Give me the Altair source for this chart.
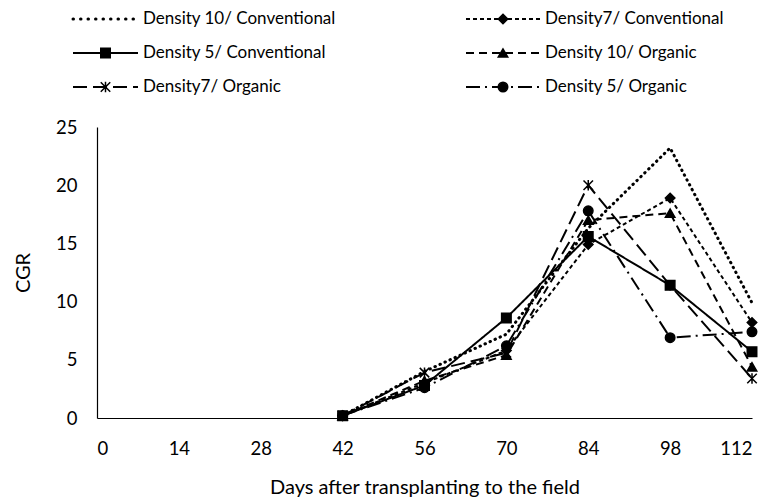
import altair as alt
import pandas as pd

days = [42, 56, 70, 84, 98, 112]
series = [
    "Density 10/ Conventional",
    "Density7/ Conventional",
    "Density 5/ Conventional",
    "Density 10/ Organic",
    "Density7/ Organic",
    "Density 5/ Organic",
]
d10_conv = [0.2, 4.0, 7.2, 16.3, 23.2, 9.9]
d7_conv = [0.2, 3.0, 5.8, 14.9, 18.9, 8.2]
d5_conv = [0.2, 2.8, 8.6, 15.6, 11.4, 5.7]
d10_org = [0.2, 3.2, 5.4, 17.0, 17.6, 4.4]
d7_org = [0.2, 3.9, 5.6, 20.0, 11.4, 3.4]
d5_org = [0.2, 2.6, 6.2, 17.8, 6.9, 7.4]
x_ticks = [0, 14, 28, 42, 56, 70, 84, 98, 112]
y_ticks = [0, 5, 10, 15, 20, 25]

values = [d10_conv, d7_conv, d5_conv, d10_org, d7_org, d5_org]
rows = []
for s, vals in zip(series, values):
    for d, v in zip(days, vals):
        rows.append({"series": s, "day": d, "cgr": v})
df = pd.DataFrame(rows)

dash_range = [[0.5, 5], [4, 3], [1, 0], [8, 5], [14, 6], [14, 5, 2, 5]]
star = "M-1,-1L1,1M1,-1L-1,1M0,-1.1L0,1.1"
marker_series = series[1:]
shape_range = ["diamond", "square", "triangle-up", star, "circle"]

FONT = "Lato"

x_enc = alt.X("day:Q", scale=alt.Scale(domain=[0, 112], nice=False),
              axis=alt.Axis(values=x_ticks, title="Days after transplanting to the field",
                            labelPadding=21, titlePadding=20))
y_enc = alt.Y("cgr:Q", scale=alt.Scale(domain=[0, 25], nice=False),
              axis=alt.Axis(values=y_ticks, title="CGR", labelPadding=20, titlePadding=22))
dash_enc = alt.StrokeDash("series:N", scale=alt.Scale(domain=series, range=dash_range), legend=None)
shape_enc = alt.Shape("series:N", scale=alt.Scale(domain=marker_series, range=shape_range), legend=None)

dotted = alt.Chart(df[df.series == series[0]]).mark_line(
    color="black", strokeWidth=3, strokeCap="round", strokeDash=[0.5, 5]
).encode(x=x_enc, y=y_enc)

others = alt.Chart(df[df.series != series[0]]).mark_line(
    color="black", strokeWidth=2
).encode(x=x_enc, y=y_enc, strokeDash=dash_enc, detail="series:N")

points = alt.Chart(df[df.series != series[0]]).mark_point(
    filled=True, color="black", stroke="black", strokeWidth=1.5, opacity=1, size=90
).encode(x=x_enc, y=y_enc, shape=shape_enc)

# legend layout (pixel positions relative to plot origin)
leg_x1 = [-24, 369, -24, 369, -24, 369]
leg_x2 = [41, 443, 41, 443, 41, 443]
leg_y = [-108, -108, -74, -74, -40, -40]
leg = pd.DataFrame({
    "series": series,
    "x1": leg_x1,
    "x2": leg_x2,
    "xm": [(a + b) / 2 for a, b in zip(leg_x1, leg_x2)],
    "xt": [b + 5 for b in leg_x2],
    "y": leg_y,
})

leg_dotted = alt.Chart(leg[leg.series == series[0]]).mark_rule(
    color="black", strokeWidth=3, strokeCap="round", strokeDash=[0.5, 7]
).encode(x=alt.X("x1:Q", scale=None), x2="x2:Q", y=alt.Y("y:Q", scale=None))

leg_lines = alt.Chart(leg[leg.series != series[0]]).mark_rule(
    color="black", strokeWidth=2
).encode(x=alt.X("x1:Q", scale=None), x2="x2:Q", y=alt.Y("y:Q", scale=None), strokeDash=dash_enc)

leg_points = alt.Chart(leg[leg.series != series[0]]).mark_point(
    filled=True, color="black", stroke="black", strokeWidth=1.5, opacity=1, size=90
).encode(x=alt.X("xm:Q", scale=None), y=alt.Y("y:Q", scale=None), shape=shape_enc)

leg_text = alt.Chart(leg).mark_text(
    align="left", baseline="middle", font=FONT, fontSize=17, color="black"
).encode(x=alt.X("xt:Q", scale=None), y=alt.Y("y:Q", scale=None), text="series:N")

chart = alt.layer(
    dotted, others, points, leg_dotted, leg_lines, leg_points, leg_text
).properties(
    width=655, height=291,
    autosize=alt.AutoSizeParams(type="none"),
    padding={"left": 89, "top": 119, "right": 7, "bottom": 83},
).configure_view(stroke=None).configure_axis(
    grid=False, ticks=False, domainColor="black", domainWidth=1.2,
    labelFont=FONT, labelFontSize=18.5, labelColor="black",
    titleFont=FONT, titleFontSize=20, titleFontWeight="normal", titleColor="black",
)

chart.save("out.html", embed_options={"renderer": "svg", "actions": False})
